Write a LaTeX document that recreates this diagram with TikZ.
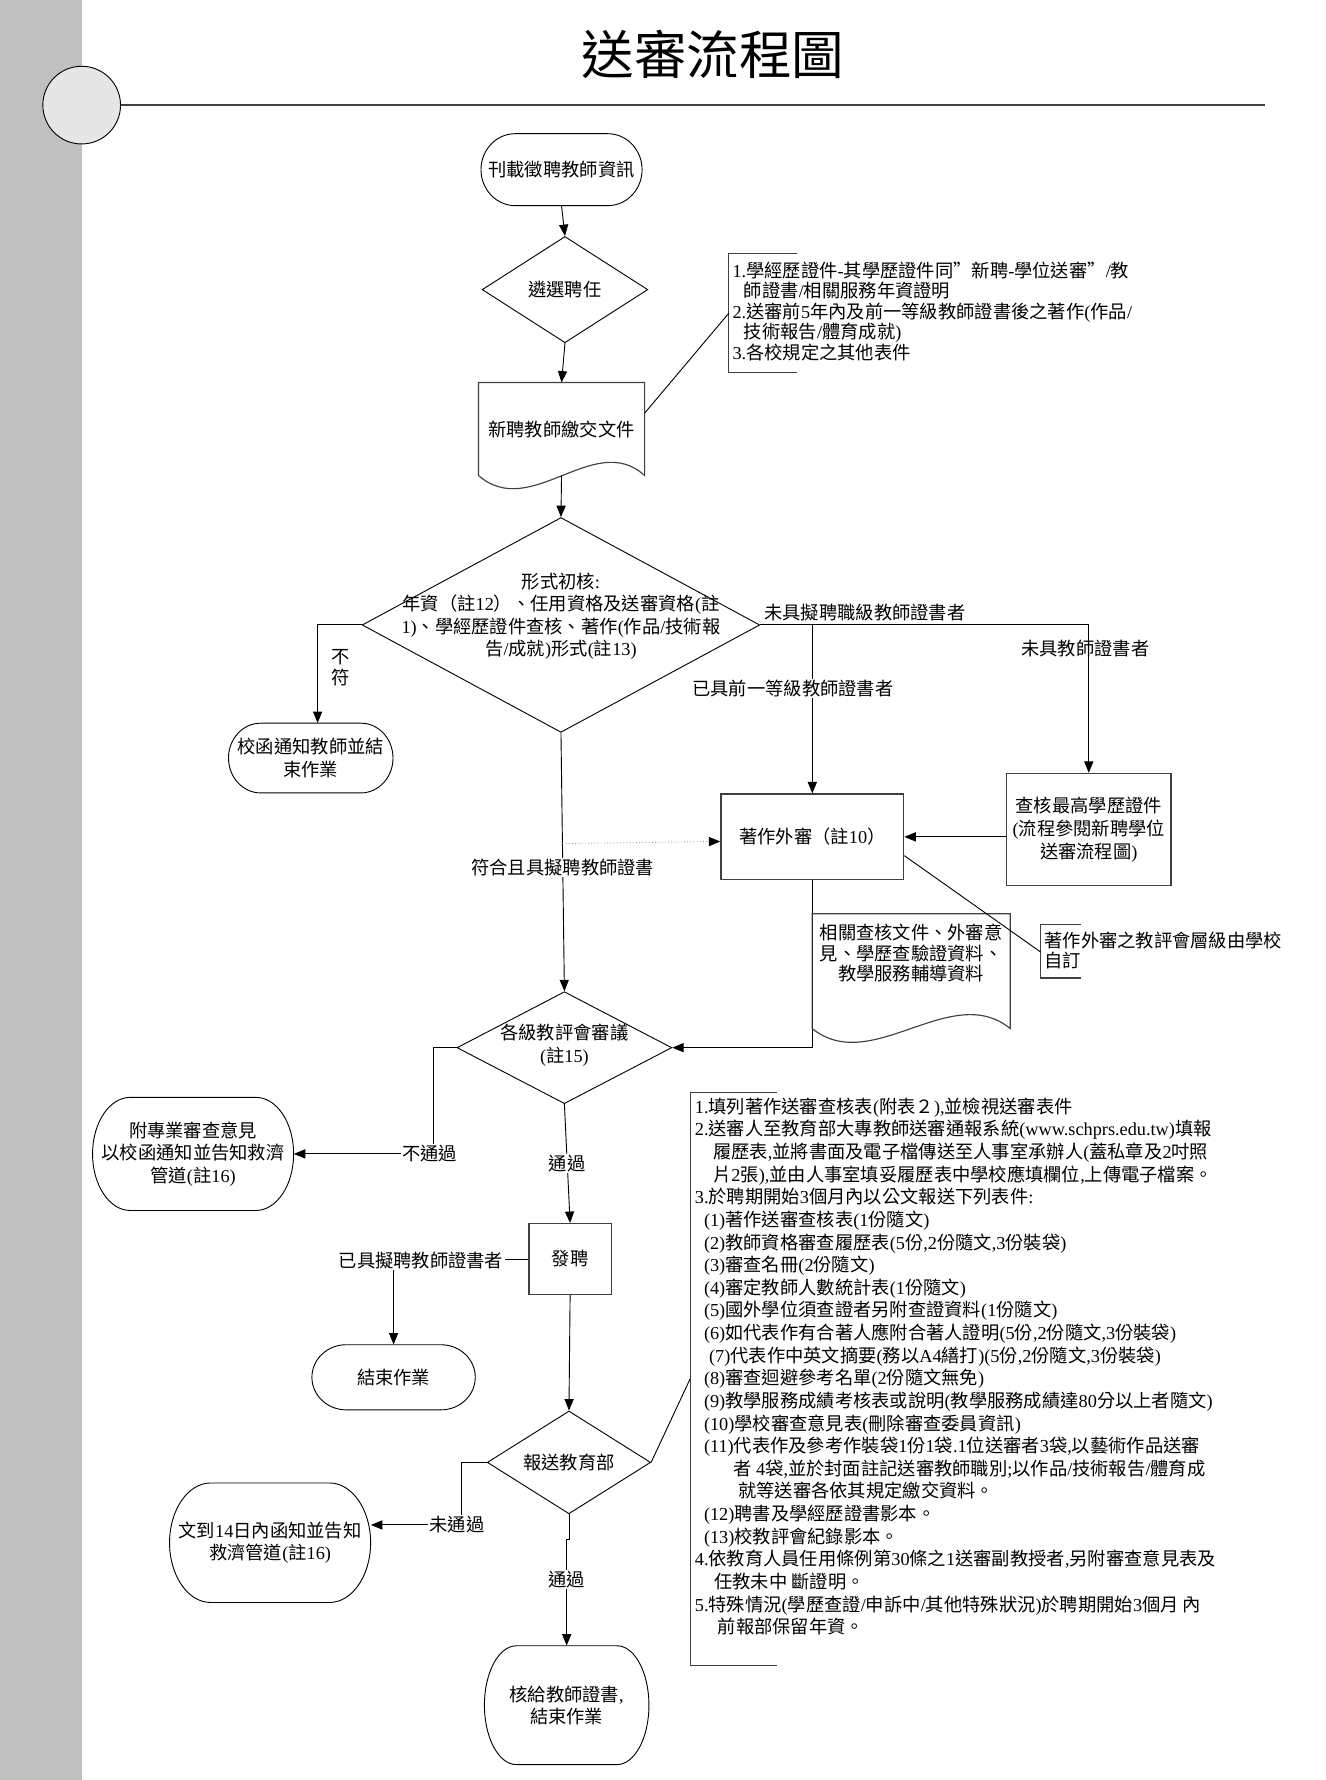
\documentclass[tikz,border=0pt]{standalone}
\usepackage{fontspec}
\setmainfont{Liberation Serif}
\newfontfamily\cjkf{Noto Sans CJK TC}
\newfontfamily\latf{Liberation Serif}
\makeatletter
\count@="3000
\loop \XeTeXcharclass\count@=1 \advance\count@ by 1 \ifnum\count@<"3040 \repeat
\count@="4E00
\loop \XeTeXcharclass\count@=1 \advance\count@ by 1 \ifnum\count@<"A000 \repeat
\count@="FF00
\loop \XeTeXcharclass\count@=1 \advance\count@ by 1 \ifnum\count@<"FFF0 \repeat
\XeTeXcharclass"201C=1
\XeTeXcharclass"201D=1
\makeatother
\XeTeXinterchartokenstate=1
\XeTeXinterchartoks 0 1 = {\cjkf}
\XeTeXinterchartoks 4095 1 = {\cjkf}
\XeTeXinterchartoks 1 0 = {\latf}
\XeTeXinterchartoks 4095 0 = {\latf}
\usetikzlibrary{arrows.meta,shapes.geometric,calc}
\definecolor{barfill}{HTML}{C0C0C0}
\definecolor{circfill}{HTML}{E6E6E6}
\tikzset{
  txt/.style={font=\fontsize{16}{19.5}\selectfont, align=center, inner sep=0pt},
  shapeline/.style={draw=black, line width=0.8pt},
  docline/.style={draw=black!75, line width=1pt},
  rectbox/.style={txt, draw=black!75, line width=1.1pt},
  diabox/.style={diamond, draw=black, line width=0.8pt, inner sep=0pt},
  conn/.style={draw=black, line width=0.8pt},
  arr/.style={conn, -{Triangle[length=10pt,width=8pt]}},
  dotarr/.style={draw=gray!70, line width=0.8pt, dotted, -{Triangle[length=10pt,width=8pt,black]}},
  lbl/.style={txt, fill=white, inner sep=1pt},
  note/.style={font=\fontsize{16}{19.8}\selectfont, align=left, inner sep=0pt, anchor=north west},
  bracket/.style={draw=black!75, line width=1pt},
}
% name, cx, cy, w, h, rx, text
\newcommand\termnode[7]{%
  \node[txt, minimum width=#4pt, minimum height=#5pt] (#1) at (#2,#3) {#7};
  \draw[shapeline] (#2-#4/2+#6,#3-#5/2) -- (#2+#4/2-#6,#3-#5/2)
    .. controls (#2+#4/2-0.448*#6,#3-#5/2) and (#2+#4/2,#3-0.276*#5) .. (#2+#4/2,#3)
    .. controls (#2+#4/2,#3+0.276*#5) and (#2+#4/2-0.448*#6,#3+#5/2) .. (#2+#4/2-#6,#3+#5/2)
    -- (#2-#4/2+#6,#3+#5/2)
    .. controls (#2-#4/2+0.448*#6,#3+#5/2) and (#2-#4/2,#3+0.276*#5) .. (#2-#4/2,#3)
    .. controls (#2-#4/2,#3-0.276*#5) and (#2-#4/2+0.448*#6,#3-#5/2) .. cycle;
}
\begin{document}
\begin{tikzpicture}[x=1pt,y=-1pt]
\useasboundingbox (0,0) rectangle (1160,1558);
\fill[white] (0,0) rectangle (1160,1558);
\fill[barfill] (0,0) rectangle (72,1558);
% header
\node[circle, draw=black, fill=circfill, line width=0.8pt, minimum size=68pt, inner sep=0pt] (hcirc) at (71.5,92) {};
\coordinate (hend) at (1107,92);
\draw[line width=2.4pt, black!75] (hcirc.east) -- (hend);
\node[font=\fontsize{46}{46}\selectfont, inner sep=0pt] (title) at (624,47.5) {送審流程圖};

% terminators
\termnode{T1}{491.5}{148.5}{141}{63}{30}{刊載徵聘教師資訊}
\termnode{T2}{272}{663.5}{144}{61}{28}{校函通知教師並結\\束作業}
\termnode{T3}{169}{1010}{176}{99}{33}{附專業審查意見\\以校函通知並告知救濟\\管道(註16)}
\termnode{T4}{344.5}{1205.5}{143}{57}{30}{結束作業}
\termnode{T5}{236.4}{1350.3}{176}{104.6}{36}{文到14日內函知並告知\\救濟管道(註16)}
\termnode{T6}{496}{1492.5}{144}{104}{28}{核給教師證書,\\結束作業}

% diamonds
\node[diabox, minimum width=145pt, minimum height=93pt] (D1) at (494.5,253.5) {};
\node[txt] (D1t) at (D1.center) {遴選聘任};
\node[diabox, minimum width=348pt, minimum height=188pt] (D2) at (491,547) {};
\node[txt, font=\fontsize{16}{19.7}\selectfont] (D2t) at (491,539.5) {形式初核:\\年資（註12）、任用資格及送審資格(註\\1)、學經歷證件查核、著作(作品/技術報\\告/成就)形式(註13)};
\node[diabox, minimum width=188pt, minimum height=98pt] (D3) at (494,917) {};
\node[txt, font=\fontsize{16}{20}\selectfont] (D3t) at (494,915) {各級教評會審議\\(註15)};
\node[diabox, minimum width=143pt, minimum height=90pt] (D4) at (498,1280) {};
\node[txt] (D4t) at (D4.center) {報送教育部};

% documents
\node[txt, minimum width=145pt, minimum height=81pt] (Doc1) at (491.5,375.5) {新聘教師繳交文件};
\draw[docline] (Doc1.south west) -- (Doc1.north west) -- (Doc1.north east) -- (Doc1.south east)
  .. controls ($(Doc1.south east)+(-44,-40)$) and ($(Doc1.south west)+(46,40)$) .. (Doc1.south west);
\node[inner sep=0pt, minimum width=173pt, minimum height=100pt] (Doc2) at (797.5,850) {};
\node[txt, font=\fontsize{16}{18}\selectfont, anchor=north] (Doc2t) at (797.5,808.7) {相關查核文件、外審意\\見、學歷查驗證資料、\\教學服務輔導資料};

% rectangles
\node[rectbox, minimum width=160pt, minimum height=75pt] (R1) at (711,732.5) {著作外審（註10）};
\node[rectbox, font=\fontsize{16}{20.2}\selectfont, minimum width=144pt, minimum height=98pt] (R2) at (953,726) {查核最高學歷證件\\(流程參閱新聘學位\\送審流程圖)};
\node[rectbox, minimum width=72pt, minimum height=62pt] (R3) at (499,1102) {發聘};

% notes
\node[note, font=\fontsize{16}{18}\selectfont] (N1) at (641,228.7) {1.學經歷證件-其學歷證件同”新聘-學位送審”/教\\\hspace*{10pt}師證書/相關服務年資證明\\2.送審前5年內及前一等級教師證書後之著作(作品/\\\hspace*{10pt}技術報告/體育成就)\\3.各校規定之其他表件};
\coordinate (b1m) at (638,274);
\draw[bracket] (698,222) -- (638,222) -- (638,326) -- (698,326);

\node[note, font=\fontsize{16}{17.6}\selectfont] (N2) at (914,815.7) {著作外審之教評會層級由學校\\自訂};
\coordinate (b2m) at (911,833.4);
\draw[bracket] (946,809) -- (911,809) -- (911,856) -- (946,856);

\node[note] (N3) at (608,960.7) {1.填列著作送審查核表(附表２),並檢視送審表件\\
2.送審人至教育部大專教師送審通報系統(www.schprs.edu.tw)填報\\
\hspace*{16pt}履歷表,並將書面及電子檔傳送至人事室承辦人(蓋私章及2吋照\\
\hspace*{16pt}片2張),並由人事室填妥履歷表中學校應填欄位,上傳電子檔案。\\
3.於聘期開始3個月內以公文報送下列表件:\\
\hspace*{8pt}(1)著作送審查核表(1份隨文)\\
\hspace*{8pt}(2)教師資格審查履歷表(5份,2份隨文,3份裝袋)\\
\hspace*{8pt}(3)審查名冊(2份隨文)\\
\hspace*{8pt}(4)審定教師人數統計表(1份隨文)\\
\hspace*{8pt}(5)國外學位須查證者另附查證資料(1份隨文)\\
\hspace*{8pt}(6)如代表作有合著人應附合著人證明(5份,2份隨文,3份裝袋)\\
\hspace*{12.5pt}(7)代表作中英文摘要(務以A4繕打)(5份,2份隨文,3份裝袋)\\
\hspace*{8pt}(8)審查迴避參考名單(2份隨文無免)\\
\hspace*{8pt}(9)教學服務成績考核表或說明(教學服務成績達80分以上者隨文)\\
\hspace*{8pt}(10)學校審查意見表(刪除審查委員資訊)\\
\hspace*{8pt}(11)代表作及參考作裝袋1份1袋.1位送審者3袋,以藝術作品送審\\
\hspace*{34pt}者 4袋,並於封面註記送審教師職別;以作品/技術報告/體育成\\
\hspace*{38pt}就等送審各依其規定繳交資料。\\
\hspace*{8pt}(12)聘書及學經歷證書影本。\\
\hspace*{8pt}(13)校教評會紀錄影本。\\
4.依教育人員任用條例第30條之1送審副教授者,另附審查意見表及\\
\hspace*{17pt}任教未中 斷證明。\\
5.特殊情況(學歷查證/申訴中/其他特殊狀況)於聘期開始3個月 內\\
\hspace*{20pt}前報部保留年資。};
\coordinate (b3m) at (604,1207);
\draw[bracket] (680,956) -- (604,956) -- (604,1458) -- (680,1458);

% connectors
\draw[arr] (T1.south) -- (D1.north);
\draw[arr] (D1.south) -- (Doc1.north);
\draw[arr] (Doc1.south) -- (D2.north);
\draw[conn] ($(Doc1.north east)!0.33!(Doc1.south east)$) -- (b1m);
\coordinate (c2) at (278,547);
\draw[arr] (D2.west) -- (c2) -- (c2 |- T2.north);
\draw[arr] (D2.east) -| (R2.north);
\draw[arr] (D2.east -| R1.north) -- (R1.north);
\draw[arr] (R2.west |- R1.east) -- (R1.east);
\draw[arr] (D2.south) -- node[lbl, pos=0.52] (Lmain) {符合且具擬聘教師證書} (D3.north);
\coordinate (r1in) at ([yshift=-4pt]R1.west);
\draw[dotarr] ($(D2.south)!(r1in)!(D3.north)$) -- (r1in);
\draw[arr] (R1.south) |- (D3.east);
\draw[docline] (Doc2.south west) -- (Doc2.north west) -- (Doc2.north east) -- (Doc2.south east)
  .. controls ($(Doc2.south east)+(-52,-42)$) and ($(Doc2.south west)+(52,42)$) .. (Doc2.south west);
\draw[conn] ($(R1.north east)!0.716!(R1.south east)$) -- (b2m);
\coordinate (c3) at (379,917);
\draw[arr] (D3.west) -- (c3) |- node[lbl, pos=0.5, xshift=-3pt] (Lno1) {不通過} (T3.east);
\draw[arr] (D3.south) -- node[lbl, midway] (Lyes1) {通過} (R3.north);
\node[lbl] (L4) at (368.5,1103) {已具擬聘教師證書者};
\draw[conn] (R3.west) -- (L4.east |- R3.west);
\draw[arr] (L4.south -| T4.north) -- (T4.north);
\draw[arr] (R3.south) -- (D4.north);
\coordinate (c5) at (404,1280);
\draw[arr] (D4.west) -- (c5) |- node[lbl, pos=0.5, xshift=-4pt] (Lno2) {未通過} (T5.10);
\draw[arr] (D4.south) -- ++(0,22) -- ++(-2,0) -- node[lbl, pos=0.38] (Lyes2) {通過} (T6.north);
\draw[conn] (D4.east) -- (b3m);

% branch labels
\node[txt] (La) at (757,536) {未具擬聘職級教師證書者};
\node[txt] (Lb) at (950,567.5) {未具教師證書者};
\node[lbl] (Lc) at (694,602.6) {已具前一等級教師證書者};
\node[txt, font=\fontsize{16}{19}\selectfont] (Lns) at (298,584.5) {不\\符};
\end{tikzpicture}
\end{document}
